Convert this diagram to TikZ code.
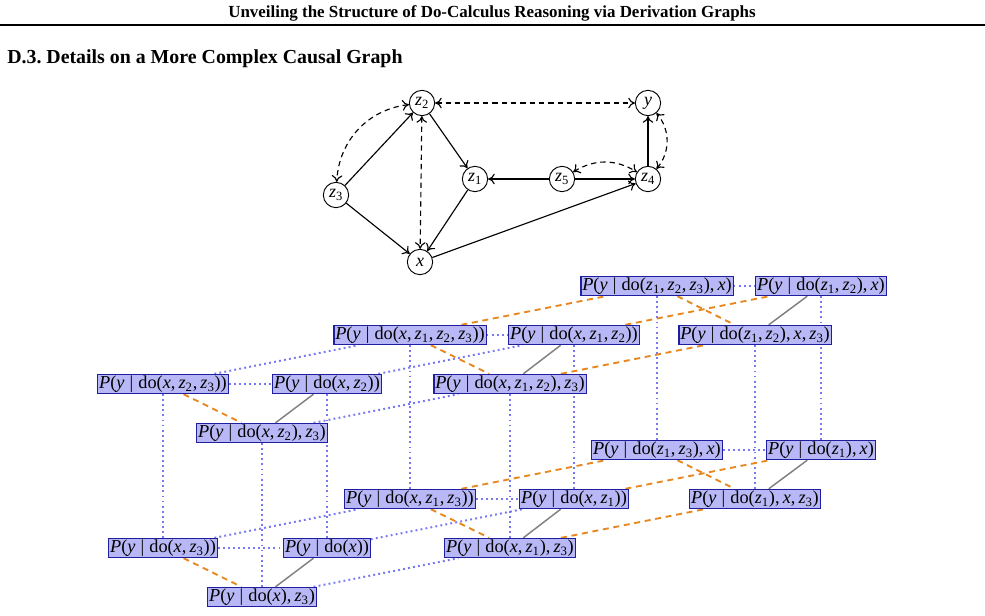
\documentclass[tikz,border=0pt]{standalone}
\usepackage{fontspec}
\setmainfont{Liberation Serif}
\usetikzlibrary{backgrounds,arrows.meta}
\definecolor{boxfill}{HTML}{B8B8F6}
\definecolor{boxdraw}{HTML}{1E1E9E}
\definecolor{dotblue}{HTML}{7878F5}
\definecolor{dashorange}{HTML}{E8871E}
\definecolor{solidgray}{HTML}{808080}
\newcommand{\vi}[1]{\textit{#1}}
\newcommand{\vz}[1]{\textit{z}\textsubscript{#1}}
\newcommand{\gv}{\hspace{0.28em}|\hspace{0.28em}}
\newcommand{\cm}{,\hspace{0.17em}}
\frenchspacing
\begin{document}
\begin{tikzpicture}[x=0.75pt,y=-0.75pt,
  >={Computer Modern Rightarrow[length=5pt,width=8pt]},
  pn/.style={draw=boxdraw, fill=boxfill, line width=0.8pt, inner sep=1pt,
    minimum height=14.5pt, font=\fontsize{13.7}{15}\selectfont},
  cn/.style={circle, draw, line width=0.7pt, minimum size=19pt, inner sep=0pt,
    font=\fontsize{13.5}{15}\selectfont},
  dir/.style={->, line width=0.85pt},
  bi/.style={<->, line width=0.85pt, dash pattern=on 4pt off 3pt},
  bdot/.style={draw=dotblue, line width=1.5pt, dash pattern=on 1.4pt off 2.4pt},
  odash/.style={draw=dashorange, line width=1.4pt, dash pattern=on 4.5pt off 3.5pt},
  gline/.style={draw=solidgray, line width=1.1pt},
  hdr/.style={font=\bfseries\fontsize{12.7}{15}\selectfont},
  sect/.style={font=\bfseries\fontsize{14.9}{17}\selectfont}
]
\useasboundingbox (0,0) rectangle (985,616);

% page header
\node[hdr] (title) at (492,13) {Unveiling the Structure of Do-Calculus Reasoning via Derivation Graphs};
\coordinate (rl) at (0,25);
\coordinate (rr) at (985,25);
\draw[line width=1.5pt] (rl) -- (rr);
\node[sect, anchor=west, inner sep=0pt] (sec) at (7,59) {D.3. Details on a More Complex Causal Graph};

% causal graph
\node[cn] (z2) at (422,103) {\vz{2}};
\node[cn] (y)  at (648,103) {\vi{y}};
\node[cn] (z3) at (336,195) {\vz{3}};
\node[cn] (z1) at (475,179) {\vz{1}};
\node[cn] (z5) at (562,179) {\vz{5}};
\node[cn] (z4) at (648,179) {\vz{4}};
\node[cn] (x)  at (420,262) {\vi{x}};

\draw[dir] (z3) -- (z2);
\draw[dir] (z3) -- (x);
\draw[dir] (z2) -- (z1);
\draw[dir] (z1) -- (x);
\draw[dir] (z5) -- (z1);
\draw[dir] (z5) -- (z4);
\draw[dir] (x) -- (z4);
\draw[dir] (z4) -- (y);
\draw[bi] (z2) -- (y);
\draw[bi] (z2) -- (x);
\draw[bi] (z2) to[bend right=40] (z3);
\draw[bi] (z5) to[bend left=32] (z4);
\draw[bi] (z4) to[bend right=40] (y);

% lattice, upper block
\node[pn] (A1) at (163,384) {\vi{P}(\vi{y}\gv do(\vi{x}\cm\vz{2}\cm\vz{3}))};
\node[pn] (A2) at (327,384) {\vi{P}(\vi{y}\gv do(\vi{x}\cm\vz{2}))};
\node[pn] (A3) at (262,433) {\vi{P}(\vi{y}\gv do(\vi{x}\cm\vz{2})\cm\vz{3})};
\node[pn] (B1) at (410,335) {\vi{P}(\vi{y}\gv do(\vi{x}\cm\vz{1}\cm\vz{2}\cm\vz{3}))};
\node[pn] (B2) at (574,335) {\vi{P}(\vi{y}\gv do(\vi{x}\cm\vz{1}\cm\vz{2}))};
\node[pn] (B3) at (510,384) {\vi{P}(\vi{y}\gv do(\vi{x}\cm\vz{1}\cm\vz{2})\cm\vz{3})};
\node[pn] (C1) at (657,286) {\vi{P}(\vi{y}\gv do(\vz{1}\cm\vz{2}\cm\vz{3})\cm\vi{x})};
\node[pn] (C2) at (821,286) {\vi{P}(\vi{y}\gv do(\vz{1}\cm\vz{2})\cm\vi{x})};
\node[pn] (C3) at (755,335) {\vi{P}(\vi{y}\gv do(\vz{1}\cm\vz{2})\cm\vi{x}\cm\vz{3})};
% lattice, lower block
\node[pn] (a1) at (163,548) {\vi{P}(\vi{y}\gv do(\vi{x}\cm\vz{3}))};
\node[pn] (a2) at (327,548) {\vi{P}(\vi{y}\gv do(\vi{x}))};
\node[pn] (a3) at (262,597) {\vi{P}(\vi{y}\gv do(\vi{x})\cm\vz{3})};
\node[pn] (b1) at (410,499) {\vi{P}(\vi{y}\gv do(\vi{x}\cm\vz{1}\cm\vz{3}))};
\node[pn] (b2) at (574,499) {\vi{P}(\vi{y}\gv do(\vi{x}\cm\vz{1}))};
\node[pn] (b3) at (510,548) {\vi{P}(\vi{y}\gv do(\vi{x}\cm\vz{1})\cm\vz{3})};
\node[pn] (c1) at (657,450) {\vi{P}(\vi{y}\gv do(\vz{1}\cm\vz{3})\cm\vi{x})};
\node[pn] (c2) at (821,450) {\vi{P}(\vi{y}\gv do(\vz{1})\cm\vi{x})};
\node[pn] (c3) at (755,499) {\vi{P}(\vi{y}\gv do(\vz{1})\cm\vi{x}\cm\vz{3})};

\begin{pgfonlayer}{background}
\foreach \u/\v in {A1/A2,B1/B2,C1/C2,A1/B1,A2/B2,A3/B3,
                   a1/a2,b1/b2,c1/c2,a1/b1,a2/b2,a3/b3,
                   A1/a1,A2/a2,A3/a3,B1/b1,B2/b2,B3/b3,C1/c1,C2/c2,C3/c3}
  \draw[bdot] (\u) -- (\v);
\foreach \u/\v in {B1/C1,B2/C2,B3/C3,A1/A3,B1/B3,C1/C3,
                   b1/c1,b2/c2,b3/c3,a1/a3,b1/b3,c1/c3}
  \draw[odash] (\u) -- (\v);
\foreach \u/\v in {A2/A3,B2/B3,C2/C3,a2/a3,b2/b3,c2/c3}
  \draw[gline] (\u) -- (\v);
\end{pgfonlayer}
\end{tikzpicture}
\end{document}
